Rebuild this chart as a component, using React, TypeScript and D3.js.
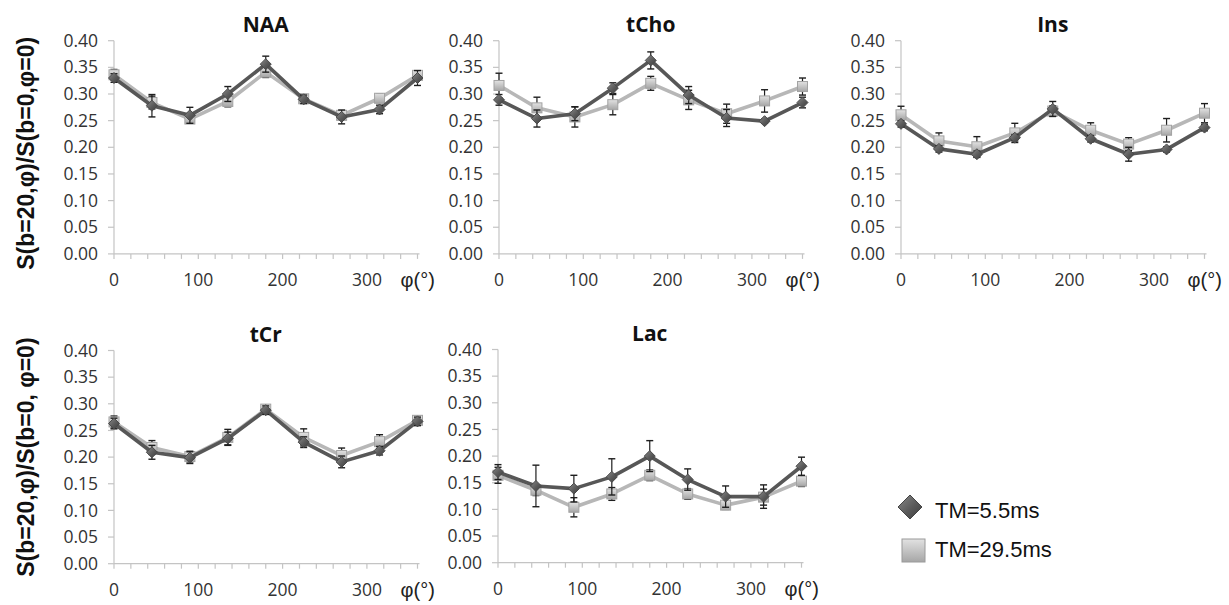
import React from "react";
import * as d3 from "d3";

const angles = [0, 45, 90, 135, 180, 225, 270, 315, 360];
const panelNames = ["NAA", "tCho", "Ins", "tCr", "Lac"];
const yTicks = [0, 0.05, 0.1, 0.15, 0.2, 0.25, 0.3, 0.35, 0.4];
const xLabelTicks = [0, 100, 200, 300];
const xMinorTicks = d3.range(0, 361, 20);
const seriesNames = ["TM=5.5ms", "TM=29.5ms"];

const naaShort = [0.330, 0.278, 0.260, 0.300, 0.356, 0.290, 0.257, 0.271, 0.330];
const naaShortErr = [0.008, 0.021, 0.015, 0.014, 0.015, 0.008, 0.013, 0.008, 0.014];
const naaLong = [0.336, 0.284, 0.253, 0.286, 0.341, 0.291, 0.260, 0.292, 0.335];
const naaLongErr = [0.010, 0.012, 0.008, 0.010, 0.010, 0.008, 0.008, 0.008, 0.008];

const tchoShort = [0.289, 0.254, 0.263, 0.311, 0.363, 0.298, 0.255, 0.249, 0.284];
const tchoShortErr = [0.010, 0.016, 0.013, 0.010, 0.016, 0.016, 0.016, 0.004, 0.010];
const tchoLong = [0.316, 0.274, 0.257, 0.280, 0.320, 0.289, 0.263, 0.287, 0.314];
const tchoLongErr = [0.023, 0.020, 0.019, 0.019, 0.013, 0.018, 0.018, 0.021, 0.016];

const insShort = [0.244, 0.197, 0.187, 0.218, 0.272, 0.216, 0.187, 0.196, 0.237];
const insShortErr = [0.006, 0.006, 0.006, 0.006, 0.014, 0.006, 0.013, 0.005, 0.006];
const insLong = [0.261, 0.212, 0.201, 0.227, 0.268, 0.232, 0.206, 0.232, 0.264];
const insLongErr = [0.016, 0.015, 0.019, 0.018, 0.010, 0.014, 0.012, 0.022, 0.018];

const tcrShort = [0.263, 0.209, 0.199, 0.235, 0.288, 0.228, 0.191, 0.212, 0.267];
const tcrShortErr = [0.010, 0.013, 0.011, 0.012, 0.008, 0.010, 0.011, 0.008, 0.008];
const tcrLong = [0.266, 0.218, 0.201, 0.237, 0.290, 0.237, 0.203, 0.229, 0.269];
const tcrLongErr = [0.011, 0.013, 0.010, 0.015, 0.008, 0.016, 0.014, 0.013, 0.008];

const lacShort = [0.170, 0.144, 0.139, 0.161, 0.200, 0.156, 0.124, 0.124, 0.181];
const lacShortErr = [0.014, 0.039, 0.025, 0.034, 0.029, 0.020, 0.020, 0.022, 0.017];
const lacLong = [0.164, 0.136, 0.104, 0.129, 0.164, 0.129, 0.108, 0.123, 0.153];
const lacLongErr = [0.015, 0.010, 0.018, 0.012, 0.010, 0.010, 0.008, 0.015, 0.010];

const shortSeries = [naaShort, tchoShort, insShort, tcrShort, lacShort];
const shortErrs = [naaShortErr, tchoShortErr, insShortErr, tcrShortErr, lacShortErr];
const longSeries = [naaLong, tchoLong, insLong, tcrLong, lacLong];
const longErrs = [naaLongErr, tchoLongErr, insLongErr, tcrLongErr, lacLongErr];

// layout
const panelLeft = [114, 499, 901, 114, 498];
const panelTop = [40.7, 40.7, 40.7, 350.5, 349.5];
const plotW = 303.5;
const plotH = 213.2;

const tickFont = "'Open Sans', sans-serif";
const arial = "'Liberation Sans', Arial, sans-serif";
const DARK = "#575757";
const LIGHT = "#b7b7b7";
const AXIS = "#c4c4c4";

function diamondPath(cx: number, cy: number, r: number) {
  return `M${cx},${cy - r}L${cx + r},${cy}L${cx},${cy + r}L${cx - r},${cy}Z`;
}

function Panel({ idx }: { idx: number }) {
  const x0 = panelLeft[idx];
  const y0 = panelTop[idx];
  const x = d3.scaleLinear().domain([0, 360]).range([x0, x0 + plotW]);
  const y = d3.scaleLinear().domain([0, 0.4]).range([y0 + plotH, y0]);
  const line = d3
    .line<number>()
    .x((_, i) => x(angles[i]))
    .y((v) => y(v));
  const yBase = y(0);
  const sers = [
    { vals: longSeries[idx], errs: longErrs[idx], color: LIGHT, kind: "sq" },
    { vals: shortSeries[idx], errs: shortErrs[idx], color: DARK, kind: "di" },
  ];
  return (
    <g>
      <text
        x={x(180)}
        y={y0 - 9}
        textAnchor="middle"
        fontFamily={tickFont}
        fontWeight="bold"
        fontSize={21}
        fill="#111"
      >
        {panelNames[idx]}
      </text>
      {/* y axis */}
      <line x1={x0} x2={x0} y1={y0} y2={yBase} stroke={AXIS} strokeWidth={1.2} />
      {yTicks.map((t) => (
        <g key={t}>
          <line x1={x0 - 6} x2={x0} y1={y(t)} y2={y(t)} stroke={AXIS} strokeWidth={1.2} />
          <text
            x={x0 - 16}
            y={y(t)}
            dy="0.35em"
            textAnchor="end"
            fontFamily={tickFont}
            fontSize={17.5}
            fill="#333"
          >
            {d3.format(".2f")(t)}
          </text>
        </g>
      ))}
      {/* x axis */}
      <line x1={x0} x2={x(360) + 2} y1={yBase} y2={yBase} stroke={AXIS} strokeWidth={1.2} />
      {xMinorTicks.map((t) => (
        <line key={t} x1={x(t)} x2={x(t)} y1={yBase} y2={yBase + 5} stroke={AXIS} strokeWidth={1.2} />
      ))}
      {xLabelTicks.map((t) => (
        <text
          key={t}
          x={x(t)}
          y={yBase + 32}
          textAnchor="middle"
          fontFamily={tickFont}
          fontSize={17.5}
          fill="#333"
        >
          {t}
        </text>
      ))}
      <text x={x(360) - 17} y={yBase + 33} fontFamily={arial} fontSize={20} fill="#222">
        φ(°)
      </text>
      {/* series */}
      {sers.map((s, si) => (
        <g key={si}>
          <path d={line(s.vals) || ""} fill="none" stroke={s.color} strokeWidth={3.6} strokeLinejoin="round" />
          {s.vals.map((v, i) => {
            const cx = x(angles[i]);
            const top = y(v + s.errs[i]);
            const bot = y(v - s.errs[i]);
            return (
              <g key={i}>
                <line x1={cx} x2={cx} y1={top} y2={bot} stroke="#1e1e1e" strokeWidth={1.2} />
                <line x1={cx - 3.5} x2={cx + 3.5} y1={top} y2={top} stroke="#1e1e1e" strokeWidth={1.4} />
                <line x1={cx - 3.5} x2={cx + 3.5} y1={bot} y2={bot} stroke="#1e1e1e" strokeWidth={1.4} />
              </g>
            );
          })}
          {s.vals.map((v, i) => {
            const cx = x(angles[i]);
            const cy = y(v);
            return s.kind === "sq" ? (
              <rect key={"m" + i} x={cx - 5} y={cy - 5} width={10} height={10} fill="url(#gSq)" stroke="#a2a2a2" strokeWidth={1} />
            ) : (
              <path key={"m" + i} d={diamondPath(cx, cy, 5.5)} fill="url(#gDi)" stroke="#4a4a4a" strokeWidth={1} />
            );
          })}
        </g>
      ))}
    </g>
  );
}

export default function App() {
  const panels = d3.range(panelNames.length);
  return (
    <svg
      width={1229}
      height={605}
      style={{ position: "absolute", left: 0, top: 0, background: "#fff" }}
    >
      <defs>
        <linearGradient id="gDi" x1="0" y1="0" x2="1" y2="1">
          <stop offset="0%" stopColor="#8a8a8a" />
          <stop offset="55%" stopColor="#5a5a5a" />
          <stop offset="100%" stopColor="#3c3c3c" />
        </linearGradient>
        <linearGradient id="gSq" x1="0" y1="0" x2="0" y2="1">
          <stop offset="0%" stopColor="#e2e2e2" />
          <stop offset="100%" stopColor="#a6a6a6" />
        </linearGradient>
      </defs>
      <rect x={0} y={0} width={1229} height={605} fill="#fff" />
      <text
        transform={`translate(26,${(panelTop[0] + panelTop[0] + plotH) / 2 + 6}) rotate(-90)`}
        textAnchor="middle"
        dominantBaseline="central"
        fontFamily={arial}
        fontWeight="bold"
        fontSize={23}
        fill="#111"
      >
        S(b=20,φ)/S(b=0,φ=0)
      </text>
      <text
        transform={`translate(26,${(panelTop[3] + panelTop[3] + plotH) / 2 + 0}) rotate(-90)`}
        textAnchor="middle"
        dominantBaseline="central"
        fontFamily={arial}
        fontWeight="bold"
        fontSize={23}
        fill="#111"
      >
        S(b=20,φ)/S(b=0, φ=0)
      </text>
      {panels.map((i) => (
        <Panel key={i} idx={i} />
      ))}
      {/* legend */}
      <g>
        <path d={diamondPath(910, 507, 12)} fill="url(#gDi)" stroke="#444" strokeWidth={1} />
        <text x={935} y={510} dominantBaseline="central" fontFamily={arial} fontSize={22} fill="#111">
          {seriesNames[0]}
        </text>
        <rect x={902} y={539} width={23} height={23} fill="url(#gSq)" stroke="#9a9a9a" strokeWidth={1} />
        <text x={935} y={549} dominantBaseline="central" fontFamily={arial} fontSize={22} fill="#111">
          {seriesNames[1]}
        </text>
      </g>
    </svg>
  );
}
